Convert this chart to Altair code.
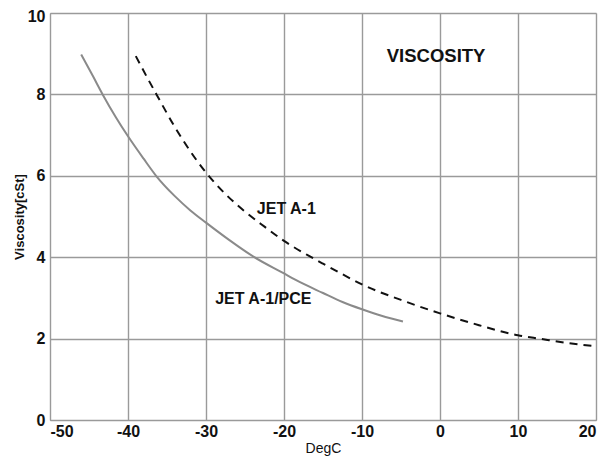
import altair as alt
import pandas as pd

pce_x = [-46.0, -44.5, -43.25, -41.5, -40.0, -38.0, -36.4, -34.0, -32.0, -30.0, -27.0, -23.8, -20.0, -18.5, -15.0, -12.5, -10.0, -7.5, -4.75]
pce_y = [8.98, 8.45, 8.0, 7.42, 6.97, 6.42, 6.0, 5.5, 5.15, 4.85, 4.42, 4.0, 3.6, 3.44, 3.12, 2.9, 2.72, 2.56, 2.42]

jet_x = [-39.0, -37.5, -36.35, -34.0, -32.0, -30.0, -27.5, -25.0, -22.5, -20.0, -16.5, -15.0, -12.5, -10.0, -5.0, 0.0, 5.0, 10.0, 13.0, 16.0, 19.5]
jet_y = [8.94, 8.4, 8.0, 7.2, 6.6, 6.08, 5.55, 5.12, 4.75, 4.4, 4.0, 3.84, 3.58, 3.33, 2.95, 2.62, 2.33, 2.08, 1.99, 1.9, 1.82]

label_text = ["VISCOSITY", "JET A-1", "JET A-1/PCE"]
label_x = [-0.5, -19.7, -22.65]
label_y = [8.95, 5.19, 2.98]
label_size = [18.5, 16, 16]

x_ticks = [-50, -40, -30, -20, -10, 0, 10, 20]
y_ticks = [0, 2, 4, 6, 8, 10]

df = pd.concat([
    pd.DataFrame({"DegC": pce_x, "Viscosity": pce_y, "series": "JET A-1/PCE"}),
    pd.DataFrame({"DegC": jet_x, "Viscosity": jet_y, "series": "JET A-1"}),
])
labels = pd.DataFrame({"text": label_text, "DegC": label_x, "Viscosity": label_y, "size": label_size})

FONT = "Liberation Sans"
GRID = "#9a9a9a"

xs = alt.Scale(domain=[-50, 20], nice=False)
ys = alt.Scale(domain=[0, 10], nice=False)

xax = alt.Axis(values=x_ticks, title="DegC", labelFontWeight="bold",
               labelFontSize=16, titleFontSize=14, titleFontWeight="normal",
               ticks=False, labelPadding=3, titlePadding=2, domainColor=GRID,
               gridColor=GRID, gridWidth=1.4, labelColor="#111", titleColor="#111",
               labelFont=FONT, titleFont=FONT, labelExpr="datum.value + ''")
yax = alt.Axis(values=y_ticks, title="Viscosity[cSt]", labelFontWeight="bold",
               labelFontSize=16, titleFontSize=13, titleFontWeight="bold",
               ticks=False, labelPadding=5, titlePadding=1, domainColor=GRID,
               gridColor=GRID, gridWidth=1.4, labelColor="#111", titleColor="#111",
               labelFont=FONT, titleFont=FONT,
               labelOffset={"condition": {"test": "datum.value == 10", "value": 3}, "value": 0})

base = alt.Chart(df)

pce = base.transform_filter(alt.datum.series == "JET A-1/PCE").mark_line(
    color="#8a8a8a", strokeWidth=2, interpolate="monotone"
).encode(
    x=alt.X("DegC:Q", scale=xs, axis=xax),
    y=alt.Y("Viscosity:Q", scale=ys, axis=yax),
)

jet = base.transform_filter(alt.datum.series == "JET A-1").mark_line(
    color="#111", strokeWidth=2, strokeDash=[8, 6], interpolate="monotone"
).encode(
    x=alt.X("DegC:Q", scale=xs),
    y=alt.Y("Viscosity:Q", scale=ys),
)

txt = alt.Chart(labels).mark_text(
    font=FONT, fontWeight="bold", color="#111", align="center", baseline="middle"
).encode(
    x=alt.X("DegC:Q", scale=xs),
    y=alt.Y("Viscosity:Q", scale=ys),
    text="text:N",
    size=alt.Size("size:Q", scale=None, legend=None),
)

chart = alt.layer(pce, jet, txt).properties(
    width=546, height=407,
    autosize=alt.AutoSizeParams(type="none"),
    padding={"left": 42, "top": 5, "right": 6, "bottom": 36},
).configure_view(stroke=GRID, strokeWidth=1.4).configure(background="white")

chart.save("out.html", embed_options={"renderer": "svg", "actions": False})
